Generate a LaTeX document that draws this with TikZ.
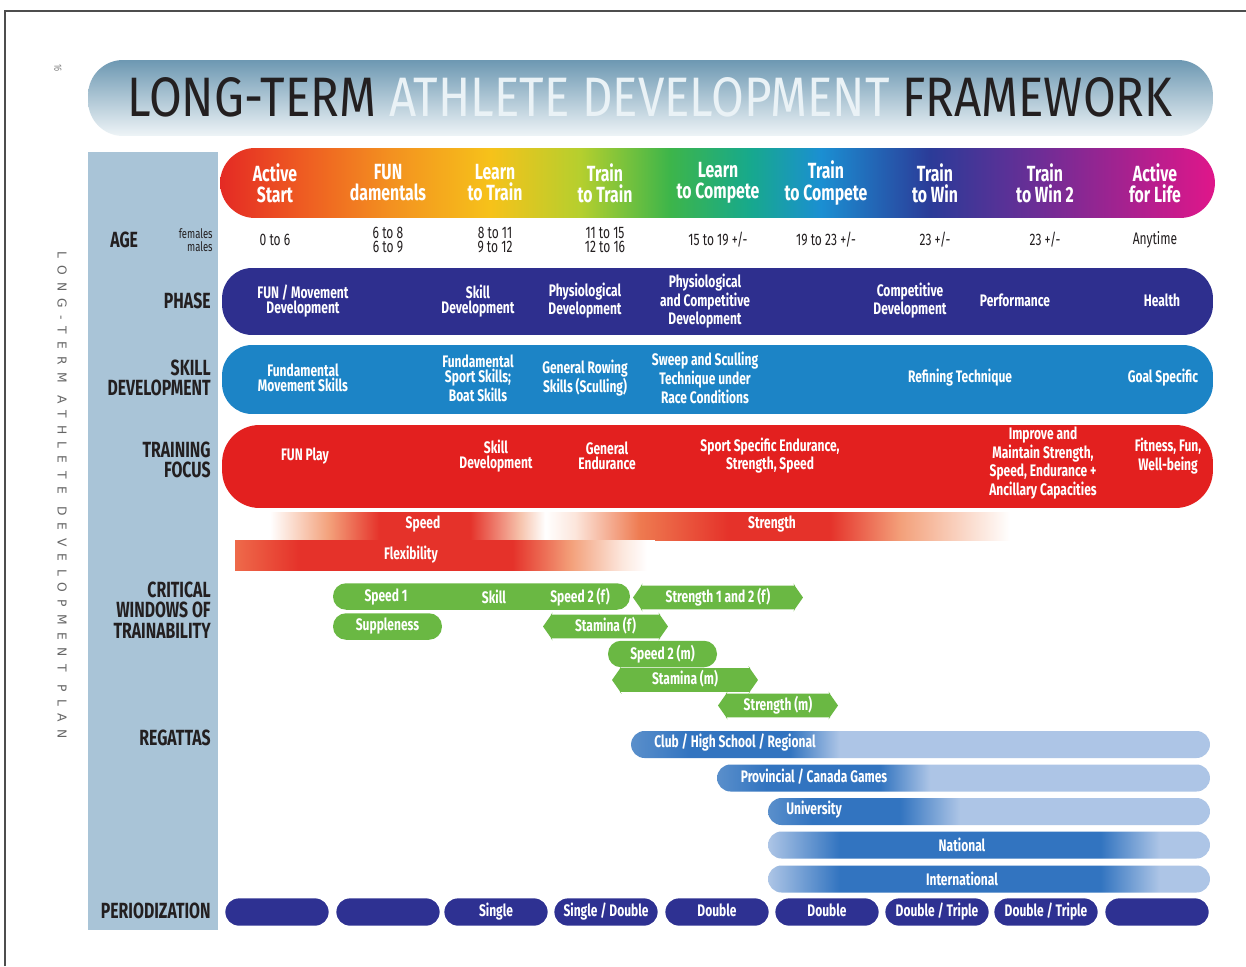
\documentclass[tikz,border=0pt]{standalone}
\usepackage{fontspec}
\usepackage{graphicx}
\usetikzlibrary{shapes.arrows}

\newfontfamily\cond{Fira Sans}[FakeStretch=0.72]
\newfontfamily\titlefont{Fira Sans}[FakeStretch=0.8]
\newfontfamily\spaced{DejaVu Sans}[LetterSpace=60]

\definecolor{colbg}{HTML}{A9C4D7}
\definecolor{phaseblue}{HTML}{2E2F8E}
\definecolor{skillblue}{HTML}{1C84C6}
\definecolor{focusred}{HTML}{E3201F}
\definecolor{windowgreen}{HTML}{6AB843}
\definecolor{regdark}{HTML}{3274C0}
\definecolor{regmid}{HTML}{5A8FCB}
\definecolor{reglight}{HTML}{ADC5E6}
\definecolor{perblue}{HTML}{2E3192}
\definecolor{labeltext}{HTML}{231F20}
\definecolor{bannertop}{HTML}{6D98B2}
\definecolor{bannermid}{HTML}{9CBACB}
\definecolor{bannerbot}{HTML}{EEF4F7}
\definecolor{titlewhite}{HTML}{EAF2F6}
\definecolor{framegray}{HTML}{4D4D4D}
% rainbow stops
\definecolor{rb1}{HTML}{E42A24}
\definecolor{rb2}{HTML}{EE5A22}
\definecolor{rb3}{HTML}{F39020}
\definecolor{rb4}{HTML}{F6C21A}
\definecolor{rb5}{HTML}{B5CF2E}
\definecolor{rb6}{HTML}{3DB54A}
\definecolor{rb7}{HTML}{17A98C}
\definecolor{rb8}{HTML}{1B8FD2}
\definecolor{rb9}{HTML}{2B3B98}
\definecolor{rb10}{HTML}{6E2D96}
\definecolor{rb11}{HTML}{A9218F}
\definecolor{rb12}{HTML}{E0168A}
% speed / strength / flexibility stops
\definecolor{fadeorange}{HTML}{F3A07A}
\definecolor{hotred}{HTML}{E5322A}
\definecolor{paleorange}{HTML}{F6C3AC}
\definecolor{blushwhite}{HTML}{FCE6DC}
\definecolor{midorange}{HTML}{EE7A50}
\definecolor{flexleft}{HTML}{EE6A4A}

\pgfdeclarehorizontalshading{rainbowbar}{100bp}{color(0bp)=(rb1); color(25bp)=(rb1);
  color(29bp)=(rb2); color(33.5bp)=(rb3); color(38.6bp)=(rb4); color(43.1bp)=(rb5);
  color(47.6bp)=(rb6); color(51.6bp)=(rb7); color(55.2bp)=(rb8); color(60.7bp)=(rb9);
  color(66.2bp)=(rb10); color(70.7bp)=(rb11); color(75bp)=(rb12); color(100bp)=(rb12)}
\pgfdeclarehorizontalshading{speedbar}{100bp}{color(0bp)=(white); color(25bp)=(white);
  color(29bp)=(fadeorange); color(32.4bp)=(hotred); color(38.5bp)=(hotred);
  color(41.9bp)=(paleorange); color(43.6bp)=(white); color(45.6bp)=(blushwhite);
  color(50bp)=(midorange); color(56bp)=(hotred); color(62.8bp)=(hotred);
  color(67.6bp)=(fadeorange); color(75bp)=(white); color(100bp)=(white)}
\pgfdeclarehorizontalshading{flexbar}{100bp}{color(0bp)=(flexleft); color(25bp)=(flexleft);
  color(32.7bp)=(hotred); color(58bp)=(hotred); color(65bp)=(fadeorange);
  color(71bp)=(blushwhite); color(74bp)=(white); color(100bp)=(white)}
\pgfdeclarehorizontalshading{clubbar}{100bp}{color(0bp)=(regmid); color(25bp)=(regmid);
  color(30bp)=(regdark); color(38.7bp)=(regdark); color(43bp)=(reglight); color(100bp)=(reglight)}
\pgfdeclarehorizontalshading{provbar}{100bp}{color(0bp)=(regmid); color(25bp)=(regmid);
  color(30bp)=(regdark); color(41.5bp)=(regdark); color(46.6bp)=(reglight); color(100bp)=(reglight)}
\pgfdeclarehorizontalshading{univbar}{100bp}{color(0bp)=(regmid); color(25bp)=(regmid);
  color(30bp)=(regdark); color(39.9bp)=(regdark); color(46.7bp)=(reglight); color(100bp)=(reglight)}
\pgfdeclarehorizontalshading{natbar}{100bp}{color(0bp)=(reglight); color(25bp)=(reglight);
  color(33.1bp)=(regdark); color(62.6bp)=(regdark); color(69.3bp)=(reglight); color(100bp)=(reglight)}

\begin{document}
\begin{tikzpicture}[x=0.02cm, y=-0.02cm,
  every node/.style={inner sep=0pt},
  lbl/.style={font=\cond\bfseries\fontsize{9.5}{8.5}\selectfont, text=white, align=center},
  side/.style={font=\cond\bfseries\fontsize{12.5}{11.5}\selectfont, text=labeltext, align=right, anchor=east},
  stage/.style={font=\cond\bfseries\fontsize{12.5}{12}\selectfont, text=white, align=center},
  age/.style={font=\cond\fontsize{9.5}{8.5}\selectfont, text=labeltext, align=center},
  mainbar/.style={minimum width=19.82cm, rounded corners=0.6cm},
  window/.style={lbl, fill=windowgreen, rounded corners=0.26cm, minimum height=0.53cm},
  windarrow/.style={lbl, double arrow, fill=windowgreen, double arrow head extend=0.04cm,
    double arrow tip angle=110, double arrow head indent=0.04cm, text height=1.6ex, text depth=0.4ex,
    inner ysep=0.08cm, minimum width=0.54cm},
  regatta/.style={lbl, minimum width=8.84cm, minimum height=0.54cm, rounded corners=0.27cm},
  period/.style={lbl, fill=perblue, draw=white, line width=1pt, rounded corners=0.28cm,
    minimum width=2.1cm, minimum height=0.58cm, text height=1.6ex, text depth=0.4ex}]
\useasboundingbox (0,0) rectangle (1246,966);
\fill[white] (0,0) rectangle (1246,966);
\draw[framegray, line width=1.2pt] (5,966) -- (5,11) -- (1246,11);

% page number and running title
\node[rotate=-90, font=\cond\fontsize{6}{6}\selectfont, text=gray] (pagenum) at (58,68) {16};
\node[rotate=-90, font=\spaced\fontsize{7}{7}\selectfont, text=gray!80!black] (runtitle) at (62,495)
  {LONG-TERM\quad ATHLETE\quad DEVELOPMENT\quad PLAN};

% title banner
\node[minimum width=22.5cm, minimum height=1.52cm, rounded corners=0.7cm,
  top color=bannertop, middle color=bannermid, bottom color=bannerbot] (banner) at (650.5,98) {};
\node (title) at (650,97) {\resizebox{20.9cm}{0.78cm}{\titlefont\color{labeltext}LONG-TERM
  \color{titlewhite}ATHLETE DEVELOPMENT \color{labeltext}FRAMEWORK}};

% label column
\fill[colbg] (88,152) rectangle (218,930);

% stages
\node[minimum width=19.9cm, minimum height=1.4cm, rounded corners=0.7cm, shading=rainbowbar] (stages) at (717.5,183) {};
\foreach \x/\t [count=\i] in {275/{Active\\Start}, 388/{FUN\\damentals}, 495/{Learn\\to Train},
    605/{Train\\to Train}, 718/{Learn\\to Compete}, 826/{Train\\to Compete}, 935/{Train\\to Win},
    1045/{Train\\to Win 2}, 1155/{Active\\for Life}}
  \node[stage] (stage\i) at (\x,183) {\t};

% age
\node[side, align=left, anchor=west] (agelbl) at (110,240) {AGE};
\node[age, font=\cond\fontsize{7.5}{7}\selectfont, align=right, anchor=east] (sexlbl) at (213,240) {females\\males};
\foreach \x/\t [count=\i] in {275/{0 to 6}, 388/{6 to 8\\6 to 9}, 495/{8 to 11\\9 to 12},
    605/{11 to 15\\12 to 16}, 718/{15 to 19 +/-}, 826/{19 to 23 +/-}, 935/{23 +/-},
    1045/{23 +/-}, 1155/{Anytime}}
  \node[age] (age\i) at (\x,240) {\t};

% phase
\node[side] (phaselbl) at (211,301) {PHASE};
\node[mainbar, fill=phaseblue, minimum height=1.34cm] (phase) at (717.5,301.5) {};
\node[lbl] (ph1) at (303,301) {FUN / Movement\\Development};
\node[lbl] (ph2) at (478,301) {Skill\\Development};
\node[lbl] (ph3) at (585,301) {Physiological\\Development};
\node[lbl] (ph4) at (705,301) {Physiological\\and Competitive\\Development};
\node[lbl] (ph5) at (910,301) {Competitive\\Development};
\node[lbl] (ph6) at (1015,300) {Performance};
\node[lbl] (ph7) at (1162,300) {Health};

% skill development
\node[side] (skilllbl) at (211,378) {SKILL\\DEVELOPMENT};
\node[mainbar, fill=skillblue, minimum height=1.38cm] (skill) at (717.5,379.5) {};
\node[lbl] (sk1) at (303,378) {Fundamental\\Movement Skills};
\node[lbl] (sk2) at (478,378) {Fundamental\\Sport Skills;\\Boat Skills};
\node[lbl] (sk3) at (585,378) {General Rowing\\Skills (Sculling)};
\node[lbl] (sk4) at (705,378) {Sweep and Sculling\\Technique under\\Race Conditions};
\node[lbl] (sk5) at (960,378) {Refining Technique};
\node[lbl] (sk6) at (1163,378) {Goal Specific};

% training focus
\node[side] (focuslbl) at (211,460) {TRAINING\\FOCUS};
\node[mainbar, fill=focusred, minimum height=1.66cm, rounded corners=0.75cm] (focus) at (717.5,466.5) {};
\node[lbl] (fo1) at (305,456) {FUN Play};
\node[lbl] (fo2) at (496,456) {Skill\\Development};
\node[lbl] (fo3) at (607,456) {General\\Endurance};
\node[lbl] (fo4) at (770,456) {Sport Specific Endurance,\\Strength, Speed};
\node[lbl] (fo5) at (1043,463) {Improve and\\Maintain Strength,\\Speed, Endurance +\\Ancillary Capacities};
\node[lbl] (fo6) at (1168,456) {Fitness, Fun,\\Well-being};

\node[minimum width=14.8cm, minimum height=0.56cm, shading=speedbar] (speedstr) at (640,526) {};
\node[lbl] (speed) at (423,524) {Speed};
\node[lbl] (strength) at (772,524) {Strength};
\node[minimum width=8.4cm, minimum height=0.6cm, shading=flexbar] (flexbar) at (445,555) {};
\node[lbl] (flex) at (411,555) {Flexibility};

% critical windows of trainability
\node[side] (windowlbl) at (211,610) {CRITICAL\\WINDOWS OF\\TRAINABILITY};
\node[window, minimum width=5.94cm] (gtop) at (481.5,596.5) {};
\node[lbl] (speed1) at (386,597) {Speed 1};
\node[lbl] (skillw) at (494,597) {Skill};
\node[lbl] (speed2f) at (580,597) {Speed 2 (f)};
\node[window, minimum width=2.18cm] (supple) at (387.5,626.5) {Suppleness};
\node[windarrow, minimum height=3.4cm] (str12f) at (718,597.5) {Strength 1 and 2 (f)};
\node[windarrow, minimum height=2.5cm] (stamf) at (605.5,626.5) {Stamina (f)};
\node[window, minimum width=2.18cm] (speed2m) at (662.5,654) {Speed 2 (m)};
\node[windarrow, minimum height=2.92cm] (stamm) at (685,680) {Stamina (m)};
\node[windarrow, minimum height=2.4cm] (strm) at (778,705.5) {Strength (m)};

% regattas
\node[side] (regattalbl) at (211,738) {REGATTAS};
\node[regatta, minimum width=11.58cm, shading=clubbar] (club) at (920.5,744.5) {};
\node[lbl] (clubt) at (735,743) {Club / High School / Regional};
\node[regatta, minimum width=9.86cm, shading=provbar] (prov) at (963.5,778) {};
\node[lbl] (provt) at (814,777) {Provincial / Canada Games};
\node[regatta, shading=univbar] (univ) at (989,811.5) {};
\node[lbl] (univt) at (814,810) {University};
\node[regatta, shading=natbar] (natl) at (989,845) {};
\node[lbl] (natlt) at (962,845) {National};
\node[regatta, shading=natbar] (intl) at (989,879) {};
\node[lbl] (intlt) at (962,879) {International};

% periodization
\node[side] (periodlbl) at (211,911) {PERIODIZATION};
\foreach \x/\t [count=\i] in {277/{}, 388/{}, 496/{Single}, 606/{Single / Double}, 717/{Double},
    827/{Double}, 937/{Double / Triple}, 1046/{Double / Triple}, 1157/{}}
  \node[period] (per\i) at (\x,912) {\t};
\end{tikzpicture}
\end{document}
